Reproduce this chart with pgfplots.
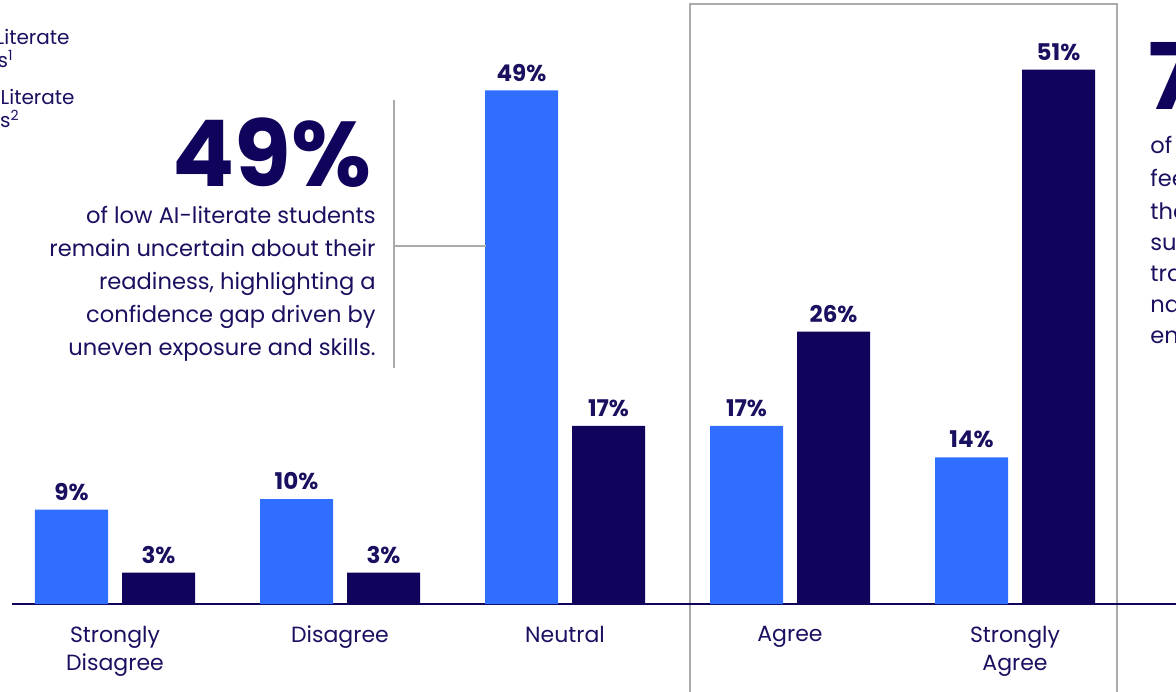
\documentclass[border=0pt]{standalone}
\usepackage{pgfplots}
\pgfplotsset{compat=1.18}
\usepackage{fontspec}
\setmainfont{Poppins}
\definecolor{lowblue}{HTML}{2F6EFF}
\definecolor{navy}{HTML}{10035C}
\definecolor{txt}{HTML}{1A1060}
\definecolor{boxgray}{HTML}{ABABAB}
\begin{document}
\begin{tikzpicture}
\useasboundingbox (0,0) rectangle (588pt,345.5pt);
\clip (0,0) rectangle (588pt,345.5pt);
% highlight box
\draw[boxgray, line width=1pt] (345pt,-10pt) -- (345pt,343.5pt) -- (558.5pt,343.5pt) -- (558.5pt,-10pt);
\begin{axis}[
  anchor=origin, at={(57.5pt,43.5pt)},
  x=112.5pt, y=5.24pt,
  xmin=-0.458, xmax=4.9, ymin=0, ymax=55,
  ybar=7pt, bar width=36.5pt,
  hide y axis,
  axis x line*=bottom,
  x axis line style={draw=navy, line width=0.9pt},
  xtick={0,1,2,3,4},
  xticklabels={{Strongly\\Disagree},{Disagree},{Neutral},{Agree},{Strongly\\Agree}},
  xticklabel style={align=center, font=\fontsize{11}{14}\selectfont, text=txt, yshift=-7.5pt},
  major tick length=0pt,
  clip=false,
  /pgf/number format/assume math mode=true,
  nodes near coords={\pgfmathprintnumber{\pgfplotspointmeta}\%},
  every node near coord/.append style={font=\bfseries\fontsize{11.5}{13}\selectfont, text=txt, anchor=south, yshift=1pt},
]
\addplot[fill=lowblue, draw=none] coordinates {(0,9) (1,10) (2,49) (3,17) (4,14)};
\addplot[fill=navy, draw=none] coordinates {(0,3) (1,3) (2,17) (3,26) (4,51)};
\end{axis}
% annotation lines
\draw[boxgray, line width=0.8pt] (197pt,295.5pt) -- (197pt,161.5pt);
\draw[boxgray, line width=0.8pt] (197pt,222.5pt) -- (243pt,222.5pt);
% left annotation
\node[anchor=base east, inner sep=0pt, text depth=0pt, text=navy, font=\bfseries\fontsize{46}{50}\selectfont] at (186pt,252pt) {49\%};
\begin{scope}[every node/.style={anchor=base east, inner sep=0pt, text=txt, font=\fontsize{11.3}{13}\selectfont}]
\node at (188pt,233.5pt) {of low AI-literate students};
\node at (188pt,217pt) {remain uncertain about their};
\node at (188pt,200.5pt) {readiness, highlighting a};
\node at (188pt,184pt) {confidence gap driven by};
\node at (188pt,167.5pt) {uneven exposure and skills.};
\end{scope}
% right annotation (cut off)
\node[anchor=base west, inner sep=0pt, text depth=0pt, text=navy, font=\bfseries\fontsize{46}{50}\selectfont] at (574pt,290.5pt) {77\%};
\begin{scope}[every node/.style={anchor=base west, inner sep=0pt, text=txt, font=\fontsize{11.3}{13}\selectfont}]
\node at (575pt,268.5pt) {of high AI-literate students};
\node at (575pt,252pt) {feel confident};
\node at (575pt,235.5pt) {that their skills};
\node at (575pt,220pt) {such as AI tools};
\node at (575pt,204.5pt) {transfer to};
\node at (575pt,189pt) {navigate the};
\node at (575pt,173.5pt) {entry-level roles};
\end{scope}
% legend text (cut off)
\begin{scope}[every node/.style={anchor=base east, inner sep=0pt, text=txt, font=\fontsize{10}{12}\selectfont}]
\node at (35pt,323pt) {Low AI-Literate};
\node at (7pt,311.5pt) {Students\textsuperscript{1}};
\node at (37.5pt,293pt) {High AI-Literate};
\node at (10pt,281.5pt) {Students\textsuperscript{2}};
\end{scope}
\end{tikzpicture}
\end{document}
